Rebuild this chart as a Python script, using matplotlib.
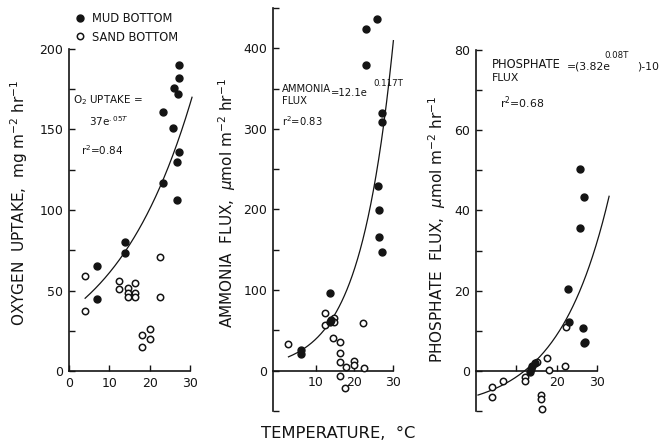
import numpy as np
import matplotlib
matplotlib.use("Agg")
import matplotlib.pyplot as plt
from matplotlib.lines import Line2D

INK = "#141414"
plt.rcParams["font.family"] = ["DejaVu Sans"]
plt.rcParams["text.color"] = INK
plt.rcParams["axes.edgecolor"] = INK
plt.rcParams["xtick.color"] = INK
plt.rcParams["ytick.color"] = INK

# ---- Oxygen uptake (mg m-2 hr-1) vs temperature (deg C) ----
o2_mud_T = [27.2, 27.2, 26.0, 27.0, 23.2, 25.9, 27.3, 26.7, 23.2, 26.7, 13.9, 14.0, 7.0, 6.9]
o2_mud = [190, 182, 176, 172, 161, 151, 136, 130, 117, 106, 80, 73, 65, 45]
o2_sand_T = [4.0, 4.0, 12.5, 12.5, 14.7, 16.3, 14.7, 16.3, 14.7, 16.3, 22.5, 22.5, 20.0, 18.0, 20.0, 18.0]
o2_sand = [59, 37, 56, 51, 51.5, 54.6, 48.4, 48.7, 46.2, 46.2, 71, 46, 26, 22.4, 20, 15]
o2_fit = (37.0, 0.05)          # a * exp(b T)
o2_fit_range = (4.0, 30.5)

# ---- Ammonia flux (umol m-2 hr-1) ----
nh_mud_T = [25.9, 22.9, 23.0, 27.1, 27.1, 26.0, 26.5, 26.4, 27.1, 13.7, 13.6, 14.1, 6.3, 6.3]
nh_mud = [436, 424, 379, 320, 309, 229, 199, 166, 147, 96, 60, 63, 26, 21]
nh_sand_T = [2.9, 12.4, 12.4, 14.7, 14.7, 14.4, 16.4, 16.2, 16.4, 17.9, 19.8, 19.8, 22.6, 16.2, 17.7, 22.3]
nh_sand = [33, 71, 57, 66, 61, 40, 35, 22, 11, 5, 12, 7, 3, -6, -21, 59]
nh_fit = (12.1, 0.117)
nh_fit_range = (3.0, 30.1)

# ---- Phosphate flux (umol m-2 hr-1) ----
po_mud_T = [25.7, 26.9, 25.9, 22.8, 23.0, 26.5, 26.7, 27.0, 14.7, 14.0, 13.6, 13.4]
po_mud = [50.4, 43.3, 35.5, 20.4, 12.2, 10.6, 7.0, 7.3, 1.9, 1.2, 0.5, -0.2]
po_sand_T = [22.4, 15.1, 17.6, 18.0, 22.1, 12.2, 12.2, 6.8, 3.9, 3.9, 16.1, 16.1, 16.3]
po_sand = [10.9, 2.2, 3.2, 0.3, 1.2, -1.6, -2.4, -2.4, -4.1, -6.5, -6.0, -7.0, -9.6]
po_fit = (3.82, 0.08, -10.0)   # a * exp(b T) + c
po_fit_range = (0.5, 33.0)

W, H = 665, 447
fig = plt.figure(figsize=(W / 100, H / 100), dpi=100)
fig.patch.set_facecolor("white")


def px_axes(left, top, right, bottom):
    return fig.add_axes([left / W, 1 - bottom / H, (right - left) / W, (bottom - top) / H])


def style(ax, xlim, ylim, yticks, yminor, xticks, xlabels, zero_axis):
    ax.set_xlim(*xlim)
    ax.set_ylim(*ylim)
    for s in ("top", "right"):
        ax.spines[s].set_visible(False)
    for s in ("left", "bottom"):
        ax.spines[s].set_linewidth(1.2)
    if zero_axis:
        ax.spines["bottom"].set_position(("data", 0))
    ax.set_yticks(yticks)
    ax.set_yticks(yminor, minor=True)
    ax.set_xticks(xticks)
    ax.set_xticklabels(xlabels)
    ax.tick_params(which="both", direction="in", length=4, width=1.0, labelsize=9, pad=4)
    ax.patch.set_alpha(0)


def scatter(ax, mt, mv, st, sv):
    ax.plot(st, sv, "o", ms=4.6, mfc="white", mec=INK, mew=1.1, ls="none", clip_on=False, zorder=4)
    ax.plot(mt, mv, "o", ms=5.0, mfc=INK, mec=INK, ls="none", clip_on=False, zorder=5)


# Panel 1: oxygen uptake
ax1 = px_axes(69, 49, 190, 371)
style(ax1, (0, 30), (0, 200), [0, 50, 100, 150, 200], [25, 75, 125, 175],
      [0, 10, 20, 30], ["0", "10", "20", "30"], False)
t = np.linspace(*o2_fit_range, 200)
ax1.plot(t, o2_fit[0] * np.exp(o2_fit[1] * t), color=INK, lw=0.9, clip_on=False, zorder=3)
scatter(ax1, o2_mud_T, o2_mud, o2_sand_T, o2_sand)
ax1.text(1.0, 168, "O$_2$ UPTAKE =", fontsize=7.5, va="center", ha="left")
ax1.text(5.0, 155, "37e$^{.05T}$", fontsize=7.5, va="center", ha="left")
ax1.text(3.0, 137, "r$^2$=0.84", fontsize=7.5, va="center", ha="left")

# Panel 2: ammonia flux
ax2 = px_axes(273, 8, 393, 411)
style(ax2, (-1, 30), (-50, 450), [0, 100, 200, 300, 400], [-50, 50, 150, 250, 350, 450],
      [10, 20, 30], ["10", "20", "30"], True)
t = np.linspace(*nh_fit_range, 200)
ax2.plot(t, nh_fit[0] * np.exp(nh_fit[1] * t), color=INK, lw=0.9, clip_on=False, zorder=3)
scatter(ax2, nh_mud_T, nh_mud, nh_sand_T, nh_sand)
ax2.text(1.3, 350, "AMMONIA", fontsize=7.2, va="center", ha="left")
ax2.text(1.3, 334, "FLUX", fontsize=7.2, va="center", ha="left")
ax2.text(13.9, 345, "=12.1e", fontsize=7.2, va="center", ha="left")
ax2.text(25.0, 356, "0.117T", fontsize=6.2, va="center", ha="left")
ax2.text(1.3, 310, "r$^2$=0.83", fontsize=7.2, va="center", ha="left")

# Panel 3: phosphate flux
ax3 = px_axes(476, 50, 597, 411)
style(ax3, (0, 30), (-10, 80), [0, 20, 40, 60, 80], [-10, 10, 30, 50, 70],
      [10, 20, 30], ["", "20", "30"], True)
t = np.linspace(*po_fit_range, 200)
ax3.plot(t, po_fit[0] * np.exp(po_fit[1] * t) + po_fit[2], color=INK, lw=0.9,
         clip_on=False, zorder=3)
scatter(ax3, po_mud_T, po_mud, po_sand_T, po_sand)
ax3.text(4.0, 76.3, "PHOSPHATE", fontsize=8.3, va="center", ha="left")
ax3.text(4.0, 73.0, "FLUX", fontsize=7.8, va="center", ha="left")
ax3.text(22.6, 75.8, "=(3.82e", fontsize=7.8, va="center", ha="left", clip_on=False)
ax3.text(31.8, 78.6, "0.08T", fontsize=6.2, va="center", ha="left", clip_on=False)
ax3.text(40.0, 75.8, ")-10", fontsize=7.8, va="center", ha="left", clip_on=False)
ax3.text(6.0, 66.8, "r$^2$=0.68", fontsize=7.8, va="center", ha="left")

# Axis titles
fig.text(19 / W, 1 - 203 / H, "OXYGEN  UPTAKE,  mg m$^{-2}$ hr$^{-1}$", rotation=90,
         ha="center", va="center", fontsize=11)
fig.text(227 / W, 1 - 203 / H, "AMMONIA  FLUX,  $\\mu$mol m$^{-2}$ hr$^{-1}$", rotation=90,
         ha="center", va="center", fontsize=11)
fig.text(437 / W, 1 - 229 / H, "PHOSPHATE  FLUX,  $\\mu$mol m$^{-2}$ hr$^{-1}$", rotation=90,
         ha="center", va="center", fontsize=11)
fig.text(338 / W, 1 - 433 / H, "TEMPERATURE,  °C", ha="center", va="center", fontsize=11.8)

# Legend
handles = [
    Line2D([], [], marker="o", ls="none", ms=5.0, mfc=INK, mec=INK),
    Line2D([], [], marker="o", ls="none", ms=4.6, mfc="white", mec=INK, mew=1.1),
]
fig.legend(handles, ["MUD BOTTOM", "SAND BOTTOM"], loc="upper left",
           bbox_to_anchor=(70 / W, 1 - 6 / H), frameon=False, fontsize=8.3,
           handlelength=0.8, handletextpad=0.6, labelspacing=0.5, borderpad=0)

fig.savefig("out.png", dpi=100, facecolor="white")
